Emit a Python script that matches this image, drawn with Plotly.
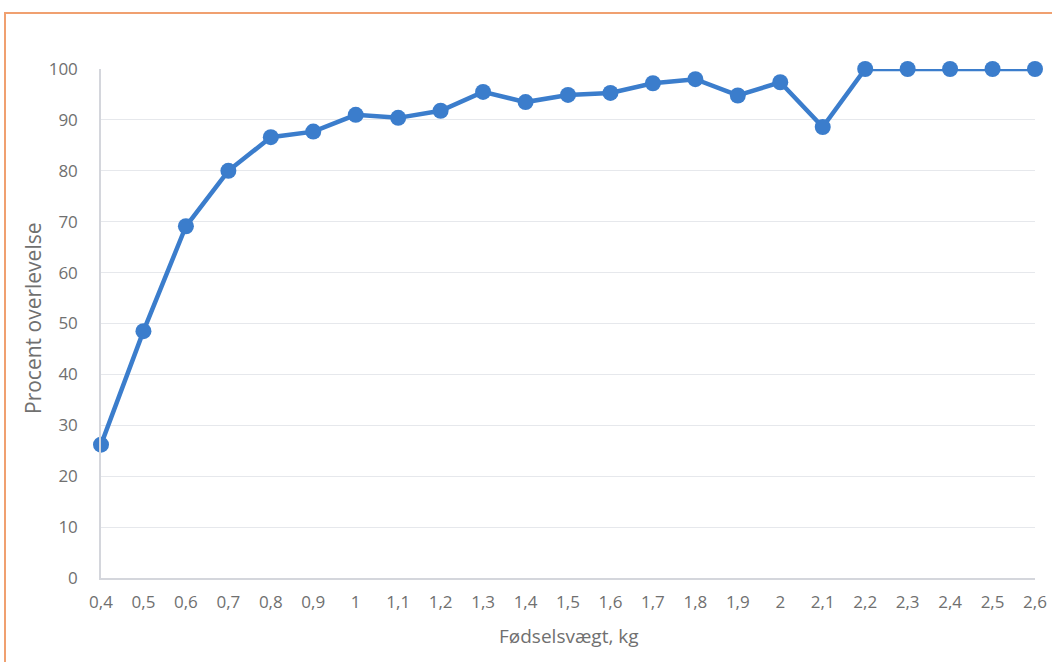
import plotly.graph_objects as go

weights = ["0,4", "0,5", "0,6", "0,7", "0,8", "0,9", "1", "1,1", "1,2", "1,3", "1,4",
           "1,5", "1,6", "1,7", "1,8", "1,9", "2", "2,1", "2,2", "2,3", "2,4", "2,5", "2,6"]
survival = [26.2, 48.5, 69.1, 80.0, 86.6, 87.7, 91.0, 90.4, 91.8, 95.5, 93.5,
            94.9, 95.3, 97.2, 98.0, 94.8, 97.4, 88.6, 100, 100, 100, 100, 100]
y_ticks = [0, 10, 20, 30, 40, 50, 60, 70, 80, 90, 100]

idx = list(range(len(weights)))
blue = "#3b7dcc"
grey_text = "#707070"
font_family = "Open Sans, DejaVu Sans, sans-serif"

fig = go.Figure()
fig.add_trace(go.Scatter(
    x=idx, y=survival, mode="lines+markers",
    line=dict(color=blue, width=4.5),
    marker=dict(color=blue, size=16),
    cliponaxis=False, showlegend=False,
))

fig.update_layout(
    width=1052, height=662,
    margin=dict(l=101, r=17, t=69, b=84),
    paper_bgcolor="white", plot_bgcolor="white",
    font=dict(family=font_family, color=grey_text, size=16),
    xaxis=dict(
        range=[0, len(weights) - 1], tickmode="array", tickvals=idx, ticktext=weights,
        showgrid=False, zeroline=False, showline=True, linecolor="#d4d6dc", linewidth=1.5,
        ticks="", ticklabelstandoff=8, tickfont=dict(size=17, color=grey_text),
        automargin=False, ticklabeloverflow="allow",
    ),
    yaxis=dict(
        range=[0, 100], tickmode="array", tickvals=y_ticks,
        showgrid=True, gridcolor="#e6e8ec", gridwidth=1, zeroline=False,
        showline=True, linecolor="#d4d6dc", linewidth=1.5,
        ticks="", ticklabelstandoff=18, tickfont=dict(size=17, color=grey_text),
        automargin=False,
    ),
    annotations=[
        dict(text="Procent overlevelse", xref="paper", yref="paper",
             x=(33 - 101) / 934, y=(578 - 318) / 509, textangle=-90, showarrow=False,
             font=dict(size=21, color=grey_text), xanchor="center", yanchor="middle"),
        dict(text="Fødselsvægt, kg", xref="paper", yref="paper",
             x=(569 - 101) / 934, y=(578 - 636) / 509, showarrow=False,
             font=dict(size=19, color=grey_text), xanchor="center", yanchor="middle"),
    ],
    shapes=[
        dict(type="rect", xref="paper", yref="paper",
             x0=(5 - 101) / 934, x1=1.2, y0=-0.4, y1=(578 - 13) / 509,
             line=dict(color="#f0a070", width=2), layer="below"),
    ],
)

fig.write_html("out.html", config={"displayModeBar": False},
               post_script="document.body.style.margin='0';")
